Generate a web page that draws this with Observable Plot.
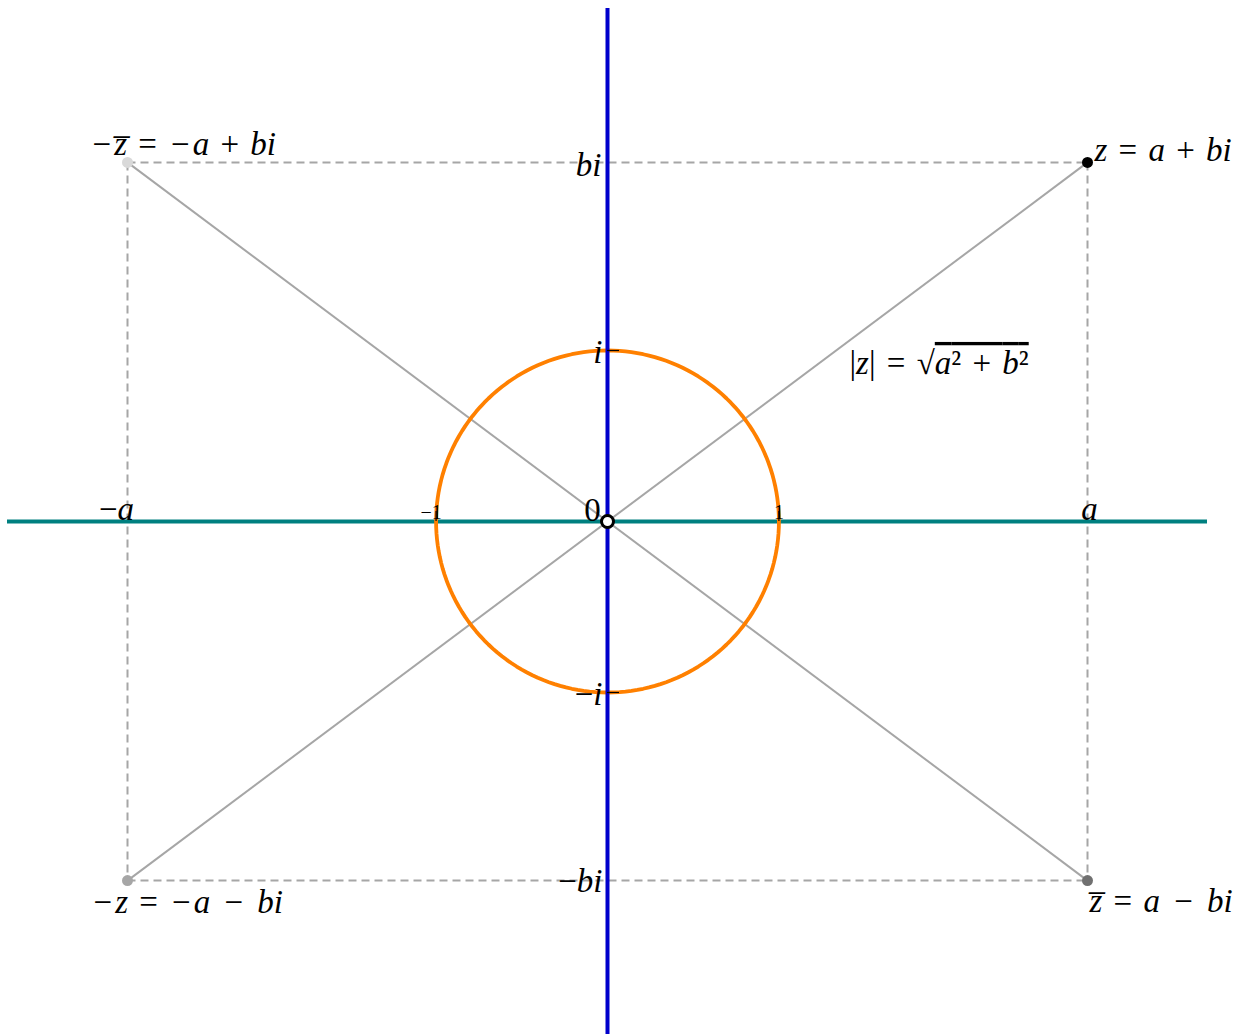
<!DOCTYPE html>
<html>
<head>
<meta charset="utf-8">
<script src="https://cdn.jsdelivr.net/npm/d3@7"></script>
<script src="https://cdn.jsdelivr.net/npm/@observablehq/plot@0.6"></script>
<style>
  html, body { margin: 0; padding: 0; background: #fff; }
  #chart svg { display: block; }
  #chart svg text { font-family: "Liberation Serif", "DejaVu Serif", serif; }
  .rich text { white-space: pre; }
  .big text { word-spacing: 3px; }
</style>
</head>
<body>
<div id="chart"></div>
<script>
// ---- data ----
const aValue = 2.8;   // real part a
const bValue = 2.1;   // imaginary part b
const pointNames = ["z", "-zbar", "-z", "zbar"];
const pointX = [aValue, -aValue, -aValue, aValue];
const pointY = [bValue, bValue, -bValue, -bValue];
const pointLabels = ["z = a + bi", "−z\u0305 = −a + bi", "−z = −a − bi", "z\u0305 = a − bi"];
const dashedPairs = [[1, 0], [2, 3], [1, 2], [0, 3]];
const diagonalPairs = [[0, 2], [1, 3]];
const xTickValues = [-aValue, -1, 0, 1, aValue];
const xTickLabels = ["−a", "−1", "0", "1", "a"];
const yTickValues = [bValue, 1, -1, -bValue];
const yTickLabels = ["bi", "i", "−i", "−bi"];
const unitRadius = 1;
const modulusLabel = "|z| = √{a² + b²}";

// ---- derived tables ----
const points = pointNames.map((n, i) => ({name: n, x: pointX[i], y: pointY[i], label: pointLabels[i]}));
const segs = pairs => pairs.map(([i, j]) => ({x1: pointX[i], y1: pointY[i], x2: pointX[j], y2: pointY[j]}));
const circle = d3.range(0, 361, 2).map(t => ({x: unitRadius * Math.cos(t * Math.PI / 180), y: unitRadius * Math.sin(t * Math.PI / 180)}));
const xTicks = xTickValues.map((v, i) => ({x: v, label: xTickLabels[i]}));
const yTicks = yTickValues.map((v, i) => ({y: v, label: yTickLabels[i]}));

const font = "Liberation Serif";
const gray = "#a6a6a6";
const T = (data, opts) => Plot.text(data, {fontFamily: font, className: "rich", fill: "black", lineAnchor: "bottom", fontSize: 33, ...opts});
const B = (data, opts) => T(data, {className: "rich big", textAnchor: "start", ...opts});

const plot = Plot.plot({
  width: 1241,
  height: 1036,
  marginLeft: 7,
  marginRight: 34,
  marginTop: 8,
  marginBottom: 2,
  x: {domain: [-3.5, 3.5], axis: null},
  y: {domain: [-3, 3], axis: null},
  color: {domain: pointNames, range: ["#000000", "#d9d9d9", "#a6a6a6", "#707070"]},
  style: {background: "white"},
  marks: [
    Plot.link(segs(dashedPairs), {x1: "x1", y1: "y1", x2: "x2", y2: "y2", stroke: gray, strokeWidth: 2, strokeDasharray: "8,5"}),
    Plot.link(segs(diagonalPairs), {x1: "x1", y1: "y1", x2: "x2", y2: "y2", stroke: gray, strokeWidth: 2}),
    Plot.ruleY([0], {stroke: "#008080", strokeWidth: 4}),
    Plot.line(circle, {x: "x", y: "y", stroke: "#ff8000", strokeWidth: 3.8}),
    Plot.ruleX([0], {stroke: "#0000cc", strokeWidth: 4}),
    Plot.ruleX([-1, 1], {y1: 0, y2: 0, insetTop: -10, insetBottom: 0, stroke: "#000", strokeWidth: 1.2}),
    Plot.ruleY([-1, 1], {x1: 0, x2: 0, insetLeft: 0, insetRight: -12, stroke: "#000", strokeWidth: 1.2}),
    Plot.dot(points, {x: "x", y: "y", r: 5.5, fill: "name", stroke: null}),
    Plot.dot([{x: 0, y: 0}], {x: "x", y: "y", r: 6, fill: "white", stroke: "black", strokeWidth: 3}),
    // point labels
    B(points.slice(0, 1), {x: "x", y: "y", text: "label", dx: 7, dy: -1}),
    B(points.slice(1, 2), {x: "x", y: "y", text: "label", dx: -38, dy: -7}),
    B(points.slice(2, 3), {x: "x", y: "y", text: "label", dx: -37, dy: 32}),
    B(points.slice(3, 4), {x: "x", y: "y", text: "label", dx: 2, dy: 31}),
    // modulus label at the midpoint of 0 -> z
    B([{x: aValue / 2, y: bValue / 2, label: modulusLabel}], {x: "x", y: "y", text: "label", dx: 2, dy: 32}),
    // x-axis labels
    T(xTicks.filter(d => d.x === -1), {x: "x", y: 0, text: "label", dx: -5, dy: -3, fontSize: 20}),
    T(xTicks.filter(d => d.x === 1), {x: "x", y: 0, text: "label", dx: 0, dy: -3, fontSize: 20}),
    T(xTicks.filter(d => d.x === -aValue), {x: "x", y: 0, text: "label", dx: -11, dy: -2}),
    T(xTicks.filter(d => d.x === aValue), {x: "x", y: 0, text: "label", dx: 2, dy: -2}),
    T(xTicks.filter(d => d.x === 0), {x: "x", y: 0, text: "label", dx: -15, dy: -1}),
    // y-axis labels
    T(yTicks.filter(d => d.y === bValue), {x: 0, y: "y", text: "label", textAnchor: "end", dx: -6, dy: 14}),
    T(yTicks.filter(d => Math.abs(d.y) === 1), {x: 0, y: "y", text: "label", textAnchor: "end", dx: -5, dy: 12}),
    T(yTicks.filter(d => d.y === -bValue), {x: 0, y: "y", text: "label", textAnchor: "end", dx: -5, dy: 11})
  ]
});

// rich text: italic letters, {…} overlined, wider minus in the big labels
d3.select(plot).selectAll("g.rich").each(function () {
  const isBig = this.classList.contains("big");
  d3.select(this).selectAll("text").each(function () {
    const s = this.textContent;
    const sel = d3.select(this);
    this.textContent = "";
    let over = false;
    let runs = [];
    for (const ch of s) {
      if (ch === "{") { over = true; continue; }
      if (ch === "}") { over = false; continue; }
      const kind = ch === "−" ? "minus" : /[a-z\u0305]/i.test(ch) ? "it" : "up";
      const last = runs[runs.length - 1];
      if (last && last.kind === kind && last.over === over && kind !== "minus") last.t += ch;
      else runs.push({t: ch, kind, over});
    }
    for (const r of runs) {
      const ts = sel.append("tspan").text(r.t);
      if (r.kind === "it") ts.attr("font-style", "italic");
      if (r.kind === "minus" && isBig) ts.attr("dx", 3).style("letter-spacing", "3px");
      if (r.over) ts.style("text-decoration", "overline");
    }
  });
});

document.getElementById("chart").appendChild(plot);
</script>
</body>
</html>
